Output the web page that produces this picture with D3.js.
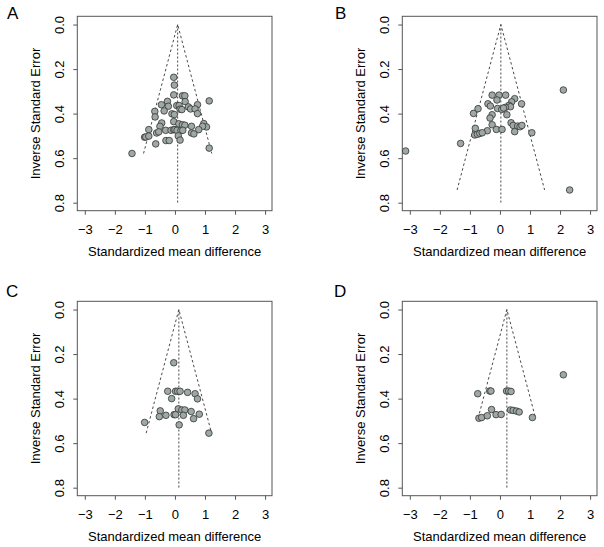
<!DOCTYPE html>
<html><head><meta charset="utf-8">
<script src="https://cdn.jsdelivr.net/npm/d3@7"></script>
<style>
body{margin:0;background:#fff}
text{font-family:"Liberation Sans",Arial,Helvetica,sans-serif;fill:#000}
</style>
</head><body>
<svg id="chart" width="604" height="547"></svg>
<script>
// ---- data ----
const panelLabels = ["A", "B", "C", "D"];
const xTicks = [-3, -2, -1, 0, 1, 2, 3];
const yTicks = [0.0, 0.2, 0.4, 0.6, 0.8];
const xTitle = "Standardized mean difference";
const yTitle = "Inverse Standard Error";

const aEffect = [-0.04,-0.02,-0.04,0.25,0.33,-0.25,0.34,1.14,-0.45,-0.22,0.06,0.14,0.45,0.52,0.75,0.67,-0.36,-0.67,0.17,0.23,0.75,-0.10,-0.02,-0.66,-0.44,-0.50,-0.04,0.13,0.25,0.33,0.55,0.96,1.05,0.92,-0.87,-0.31,-0.13,-0.04,0.00,0.07,0.20,0.26,0.79,-0.61,-0.54,-1.01,-0.97,-0.87,0.11,0.55,0.63,-0.30,-0.19,0.17,-0.64,1.14,-1.43];
const aSE     = [0.237,0.272,0.316,0.320,0.320,0.345,0.346,0.343,0.360,0.367,0.364,0.364,0.370,0.379,0.360,0.379,0.388,0.390,0.380,0.382,0.400,0.401,0.404,0.415,0.442,0.457,0.436,0.446,0.450,0.452,0.457,0.445,0.460,0.457,0.472,0.475,0.475,0.472,0.472,0.475,0.476,0.475,0.472,0.487,0.482,0.506,0.505,0.501,0.500,0.487,0.491,0.521,0.521,0.519,0.536,0.555,0.579];
const aPooled = 0.09;

const bEffect = [-3.14,-1.31,2.11,2.32,-0.26,-0.03,0.19,-0.10,0.49,0.39,-0.40,-0.32,0.72,0.30,0.35,0.18,-0.73,-0.08,0.06,0.12,-0.88,-0.26,0.23,-0.33,0.37,-0.26,0.44,0.59,0.67,0.73,-0.82,-0.12,0.07,-0.42,0.49,1.06,-0.84,-0.75,-0.67,-0.59];
const bSE     = [0.568,0.534,0.294,0.743,0.317,0.317,0.317,0.339,0.333,0.347,0.356,0.366,0.356,0.363,0.369,0.372,0.378,0.377,0.381,0.375,0.399,0.405,0.405,0.420,0.441,0.450,0.453,0.456,0.459,0.453,0.466,0.471,0.471,0.477,0.481,0.486,0.496,0.493,0.489,0.486];
const bPooled = 0.03;

const cEffect = [-0.04,-0.24,0.02,0.09,0.17,0.42,0.67,-0.11,0.75,-0.49,0.11,0.23,0.33,0.54,-0.30,-0.52,-0.03,0.02,0.28,0.81,0.62,-1.01,0.14,1.13];
const cSE     = [0.239,0.367,0.367,0.367,0.367,0.372,0.378,0.400,0.401,0.455,0.446,0.451,0.451,0.458,0.475,0.481,0.472,0.472,0.475,0.470,0.490,0.507,0.518,0.555];
const cPooled = 0.13;

const dEffect = [2.11,-0.74,-0.34,-0.30,0.22,0.29,0.37,-0.28,-0.70,-0.61,-0.42,-0.13,0.04,0.35,0.44,0.55,0.64,1.08];
const dSE     = [0.293,0.378,0.366,0.366,0.366,0.366,0.368,0.449,0.488,0.485,0.477,0.472,0.471,0.451,0.453,0.456,0.460,0.485];
const dPooled = 0.23;

const effects = [aEffect, bEffect, cEffect, dEffect];
const ses = [aSE, bSE, cSE, dSE];
const pooled = [aPooled, bPooled, cPooled, dPooled];

// ---- layout ----
const W = 194.7, H = 194.4;
const layout = [
  {x0: 77.3,  y0: 16.3,  lx: 7,   ly: 19.3},
  {x0: 402.3, y0: 16.3,  lx: 335, ly: 19.3},
  {x0: 77.3,  y0: 301.3, lx: 6,   ly: 297.3},
  {x0: 402.3, y0: 301.3, lx: 334, ly: 297.3}
];
const xDomain = [-3.25, 3.23];
const yDomain = [-0.037, 0.836];
const fmtX = d3.format("d");
const fmtY = d3.format(".1f");

const svg = d3.select("#chart");
svg.append("rect").attr("width", 604).attr("height", 547).attr("fill", "#fff");

panelLabels.forEach((lab, i) => {
  const L = layout[i];
  const x = d3.scaleLinear().domain(xDomain).range([L.x0, L.x0 + W]);
  const y = d3.scaleLinear().domain(yDomain).range([L.y0, L.y0 + H]);
  const g = svg.append("g");

  // x axis
  const gx = g.append("g").attr("transform", `translate(0,${L.y0 + H})`)
    .call(d3.axisBottom(x).tickValues(xTicks).tickSize(4).tickPadding(10).tickFormat(fmtX));
  gx.select(".domain").remove();
  gx.selectAll(".tick line").attr("stroke", "#555");
  gx.selectAll("text").attr("font-size", 13).attr("font-family", null).attr("fill", "#000");

  // y axis
  const gy = g.append("g").attr("transform", `translate(${L.x0},0)`)
    .call(d3.axisLeft(y).tickValues(yTicks).tickSize(4).tickFormat(fmtY));
  gy.select(".domain").remove();
  gy.selectAll(".tick line").attr("stroke", "#555");
  gy.selectAll("text")
    .attr("font-size", 13).attr("font-family", null).attr("fill", "#000")
    .attr("transform", "rotate(-90)")
    .attr("x", 0).attr("y", -18).attr("dy", "0.35em")
    .attr("text-anchor", "middle");

  // box
  g.append("rect").attr("x", L.x0).attr("y", L.y0).attr("width", W).attr("height", H)
    .attr("fill", "none").attr("stroke", "#555").attr("stroke-width", 1);

  // funnel
  const p = pooled[i];
  const maxSE = d3.max(ses[i]);
  const line = d3.line().x(d => x(d[0])).y(d => y(d[1]));
  g.append("path")
    .attr("d", line([[p - 1.96 * maxSE, maxSE], [p, 0], [p + 1.96 * maxSE, maxSE]]))
    .attr("fill", "none").attr("stroke", "#333").attr("stroke-width", 0.9)
    .attr("stroke-dasharray", "2.5,2.5");
  g.append("path")
    .attr("d", line([[p, yTicks[0]], [p, yTicks[yTicks.length - 1]]]))
    .attr("fill", "none").attr("stroke", "#333").attr("stroke-width", 0.9)
    .attr("stroke-dasharray", "2,2");

  // points
  g.selectAll("circle").data(effects[i].map((e, k) => [e, ses[i][k]])).join("circle")
    .attr("cx", d => x(d[0])).attr("cy", d => y(d[1])).attr("r", 3.3)
    .attr("fill", "#9ea8a4").attr("stroke", "#333").attr("stroke-width", 0.8);

  // titles
  g.append("text").attr("x", L.x0 + W / 2).attr("y", L.y0 + H + 45)
    .attr("text-anchor", "middle").attr("font-size", 13).text(xTitle);
  g.append("text")
    .attr("transform", `translate(${L.x0 - 41.5},${L.y0 + H / 2}) rotate(-90)`)
    .attr("text-anchor", "middle").attr("dy", "0.35em").attr("font-size", 13).text(yTitle);

  // panel letter
  g.append("text").attr("x", L.lx).attr("y", L.ly).attr("font-size", 17).text(lab);
});
</script>
</body></html>
